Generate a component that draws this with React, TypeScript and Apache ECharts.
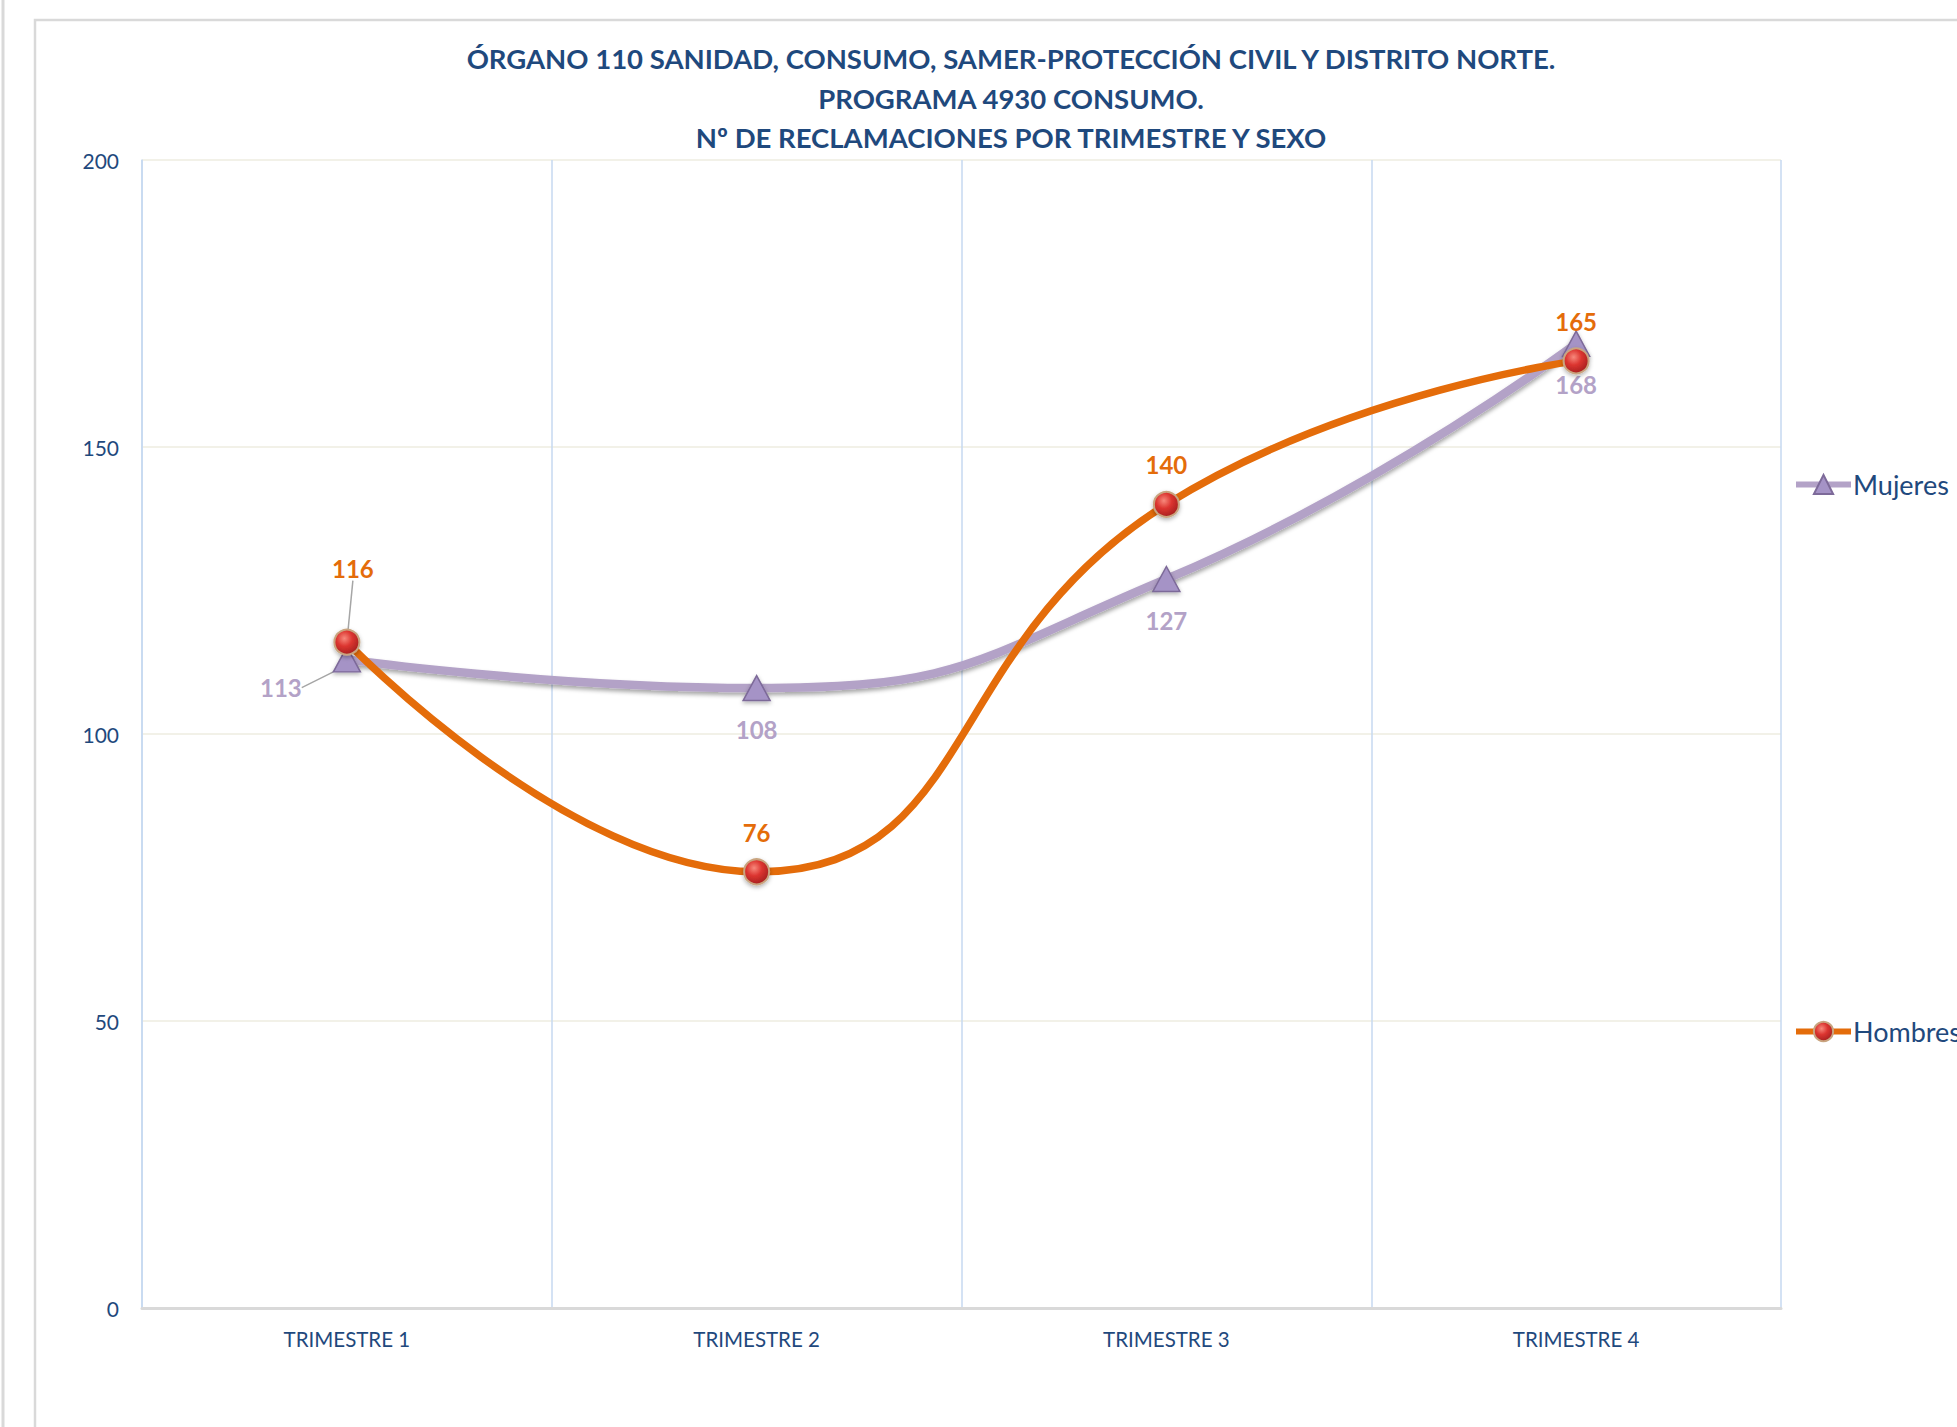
import React, { useEffect, useRef } from "react";
import * as echarts from "echarts";

const categories = ["TRIMESTRE 1", "TRIMESTRE 2", "TRIMESTRE 3", "TRIMESTRE 4"];
const mujeres = [113, 108, 127, 168];
const hombres = [116, 76, 140, 165];
const titleLines = [
  "ÓRGANO 110 SANIDAD, CONSUMO, SAMER-PROTECCIÓN CIVIL Y DISTRITO NORTE.",
  "PROGRAMA 4930 CONSUMO.",
  "Nº DE RECLAMACIONES POR TRIMESTRE Y SEXO",
];
const seriesNames = ["Mujeres", "Hombres"];

const FONT = "Lato, 'Open Sans', sans-serif";
const NAVY = "#1F497D";

export default function App() {
  const ref = useRef<HTMLDivElement>(null);
  useEffect(() => {
    if (!ref.current) return;
    const chart = echarts.init(ref.current, undefined, { renderer: "svg" });
    const redBall = new echarts.graphic.RadialGradient(0.4, 0.35, 0.7, [
      { offset: 0, color: "#F7897C" },
      { offset: 0.45, color: "#DC3530" },
      { offset: 1, color: "#A11E1E" },
    ]);
    const option: any = {
      animation: false,
      backgroundColor: "#FFFFFF",
      textStyle: { fontFamily: FONT },
      graphic: [
        {
          type: "line",
          shape: { x1: 3, y1: 0, x2: 3, y2: 1427 },
          style: { stroke: "#D9D9D9", lineWidth: 3 },
          silent: true,
        },
        {
          type: "rect",
          shape: { x: 35, y: 20, width: 2100, height: 1600 },
          style: { fill: "none", stroke: "#D9D9D9", lineWidth: 2.5 },
          silent: true,
        },
        {
          type: "text",
          x: 1011,
          y: 39,
          style: {
            text: titleLines.join("\n"),
            textAlign: "center",
            textVerticalAlign: "top",
            fontFamily: FONT,
            fontWeight: "bold",
            fontSize: 27.5,
            lineHeight: 39.5,
            fill: NAVY,
          },
          silent: true,
        },
      ],
      grid: { left: 142, right: 176, top: 160, bottom: 119 },
      legend: {
        orient: "vertical",
        left: 1788,
        top: 466,
        itemWidth: 55,
        itemHeight: 24,
        itemGap: 520,
        data: seriesNames,
        lineStyle: { width: 6 },
        textStyle: { color: NAVY, fontSize: 27, fontFamily: FONT, padding: [0, 0, 0, -3] },
      },
      xAxis: {
        type: "category",
        data: categories,
        boundaryGap: true,
        axisLine: { show: true, lineStyle: { color: "#D9D9D9", width: 3 } },
        axisTick: { show: false },
        axisLabel: { color: NAVY, fontSize: 20.5, margin: 20, fontFamily: FONT },
        splitLine: { show: true, lineStyle: { color: "#C6D9F1", width: 1.5 } },
      },
      yAxis: {
        type: "value",
        min: 0,
        max: 200,
        interval: 50,
        axisLine: { show: true, lineStyle: { color: "#C6D9F1", width: 1.5 } },
        axisTick: { show: false },
        axisLabel: { color: NAVY, fontSize: 21, margin: 23, fontFamily: FONT },
        splitLine: { show: true, lineStyle: { color: "#EEECE1", width: 1.5 } },
      },
      series: [
        {
          name: seriesNames[0],
          type: "line",
          smooth: 0.5,
          data: mujeres.map((v, i) =>
            i === 0 ? { value: v, labelLine: { show: true } } : v
          ),
          symbol: "triangle",
          symbolSize: [27, 25],
          itemStyle: {
            color: "#A593C6",
            borderColor: "#7D6A99",
            borderWidth: 1.5,
            shadowColor: "rgba(0,0,0,0.3)",
            shadowBlur: 4,
            shadowOffsetY: 2,
          },
          lineStyle: {
            color: "#B3A2C7",
            width: 8.5,
            shadowColor: "rgba(0,0,0,0.35)",
            shadowBlur: 4,
            shadowOffsetY: 3,
          },
          label: {
            show: true,
            position: "bottom",
            distance: 16,
            color: "#B3A2C7",
            fontWeight: "bold",
            fontSize: 24,
            fontFamily: FONT,
          },
          labelLine: { lineStyle: { color: "#A6A6A6", width: 1.5 } },
          labelLayout: (p: any) => (p.dataIndex === 0 ? { dx: -66, dy: -13 } : {}),
          z: 2,
        },
        {
          name: seriesNames[1],
          type: "line",
          smooth: 0.5,
          data: hombres.map((v, i) =>
            i === 0 ? { value: v, labelLine: { show: true } } : v
          ),
          symbol: "circle",
          symbolSize: 25,
          itemStyle: {
            color: redBall,
            borderColor: "#C9A47F",
            borderWidth: 2,
            shadowColor: "rgba(0,0,0,0.3)",
            shadowBlur: 4,
            shadowOffsetY: 2,
          },
          lineStyle: { color: "#E46C0A", width: 7.5 },
          label: {
            show: true,
            position: "top",
            distance: 14,
            color: "#E46C0A",
            fontWeight: "bold",
            fontSize: 24,
            fontFamily: FONT,
          },
          labelLine: { lineStyle: { color: "#A6A6A6", width: 1.5 } },
          labelLayout: (p: any) => (p.dataIndex === 0 ? { dx: 6, dy: -34 } : {}),
          z: 3,
        },
      ],
    };
    chart.setOption(option);
    return () => chart.dispose();
  }, []);
  return (
    <div
      ref={ref}
      style={{ position: "fixed", left: 0, top: 0, width: 1957, height: 1427 }}
    />
  );
}
